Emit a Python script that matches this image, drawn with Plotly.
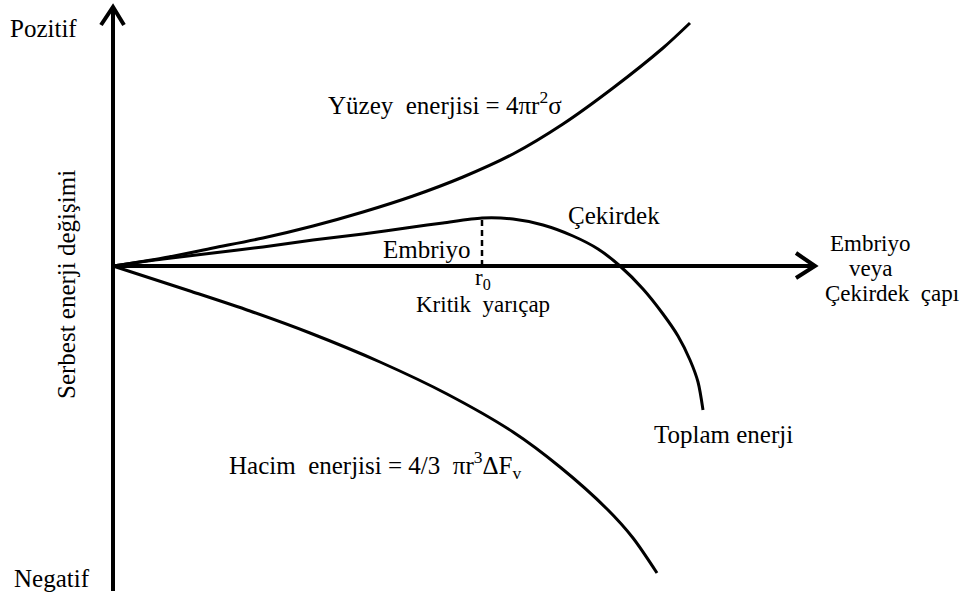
import plotly.graph_objects as go

# Schematic data (r in arbitrary units, energy in arbitrary units)
surface_r = [0, 0.5, 1.0, 1.5, 2.0, 2.5, 3.0, 3.5, 4.0, 4.5, 5.0, 5.5, 5.77]
surface_E = [0, 0.08, 0.18, 0.28, 0.40, 0.54, 0.70, 0.89, 1.12, 1.42, 1.78, 2.18, 2.43]

total_r = [0, 0.5, 1.0, 1.5, 2.0, 2.5, 3.0, 3.3, 3.69, 4.0, 4.3, 4.6, 4.85, 5.07, 5.3, 5.5, 5.65, 5.77, 5.85, 5.9]
total_E = [0, 0.07, 0.13, 0.19, 0.26, 0.32, 0.39, 0.43, 0.48, 0.47, 0.41, 0.30, 0.17, 0.0, -0.23, -0.48, -0.70, -0.94, -1.16, -1.44]

volume_r = [0, 0.77, 1.37, 1.97, 2.67, 3.34, 4.0, 4.47, 4.94, 5.2, 5.44]
volume_E = [0, -0.25, -0.45, -0.67, -0.96, -1.28, -1.66, -2.01, -2.43, -2.72, -3.07]

r_critical = 3.69
E_critical = 0.48

FONT = "Liberation Serif"
BLACK = "#000000"

fig = go.Figure()
for xs, ys in [(surface_r, surface_E), (total_r, total_E), (volume_r, volume_E)]:
    fig.add_trace(go.Scatter(x=xs, y=ys, mode="lines",
                             line=dict(color=BLACK, width=3, shape="spline", smoothing=0.8),
                             hoverinfo="skip", showlegend=False))

# critical radius dashed line
fig.add_trace(go.Scatter(x=[r_critical, r_critical], y=[0, E_critical], mode="lines",
                         line=dict(color=BLACK, width=2.5, dash="6px,4px"),
                         hoverinfo="skip", showlegend=False))

shapes = [
    dict(type="line", x0=0, y0=-3.25, x1=0, y1=2.59, line=dict(color=BLACK, width=4)),
    dict(type="line", x0=0, y0=0, x1=7.02, y1=0, line=dict(color=BLACK, width=4)),
    dict(type="path", path="M -0.12,2.41 L 0,2.59 L 0.11,2.41", line=dict(color=BLACK, width=4)),
    dict(type="path", path="M 6.83,0.13 L 7.02,0 L 6.83,-0.12", line=dict(color=BLACK, width=4)),
]

def ann(x, y, text, xanchor="center", size=25, angle=0):
    return dict(x=x, y=y, xref="x", yref="y", text=text, showarrow=False,
                xanchor=xanchor, yanchor="middle", textangle=angle,
                font=dict(family=FONT, size=size, color=BLACK))

annotations = [
    ann(-1.05, 2.38, "Pozitif", xanchor="left"),
    ann(-1.01, -3.12, "Negatif", xanchor="left"),
    ann(-0.47, -0.19, "Serbest enerji değişimi", angle=-90),
    ann(3.32, 1.63, "Yüzey  enerjisi = 4πr<sup>2</sup>σ"),
    ann(5.01, 0.51, "Çekirdek"),
    ann(3.14, 0.17, "Embriyo"),
    ann(3.70, -0.13, "r<sub>0</sub>", size=23),
    ann(3.70, -0.38, "Kritik  yarıçap", size=23),
    ann(7.57, 0.23, "Embriyo", size=23),
    ann(7.57, -0.02, "veya", size=23),
    ann(7.79, -0.27, "Çekirdek  çapı", size=23),
    ann(6.10, -1.68, "Toplam enerji"),
    ann(2.62, -1.99, "Hacim  enerjisi = 4/3  πr<sup>3</sup>ΔF<sub>v</sub>"),
]

fig.update_layout(
    width=967, height=597, autosize=False,
    margin=dict(l=0, r=0, t=0, b=0),
    paper_bgcolor="white", plot_bgcolor="white",
    xaxis=dict(range=[-1.13, 8.54], visible=False, fixedrange=True),
    yaxis=dict(range=[-3.31, 2.66], visible=False, fixedrange=True),
    shapes=shapes, annotations=annotations,
)

fig.write_html("out.html", config={"displayModeBar": False},
               post_script="document.body.style.margin='0';document.body.style.overflow='hidden';")
